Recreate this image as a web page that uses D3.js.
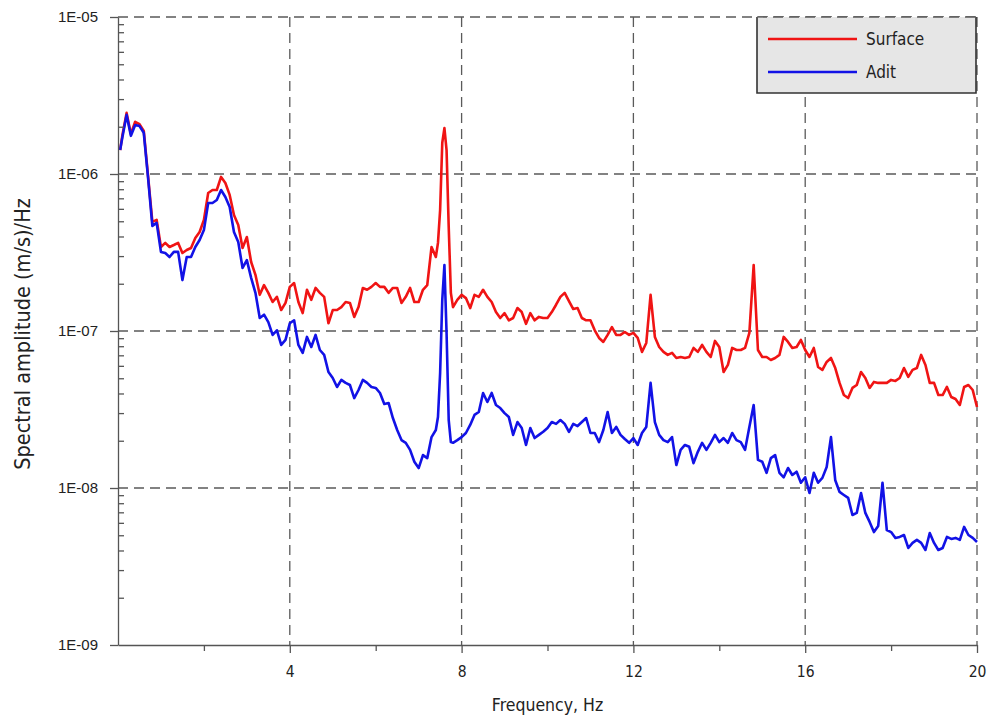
<!DOCTYPE html>
<html>
<head>
<meta charset="utf-8">
<script src="https://cdn.jsdelivr.net/npm/d3@7"></script>
<style>
html, body { margin: 0; padding: 0; background: #fff; }
svg { display: block; }
.cond { font-family: "DejaVu Sans Condensed", "DejaVu Sans", sans-serif; font-stretch: condensed; fill: #222; }
.ytick text { font-family: "Liberation Sans", Arial, sans-serif; font-size: 15px; fill: #222; }
.xtick text { font-family: "DejaVu Sans Condensed", "DejaVu Sans", sans-serif; font-stretch: condensed; font-size: 15.5px; fill: #222; }
</style>
</head>
<body>
<svg id="chart" width="989" height="717"></svg>
<script>
// frequency (Hz) of each spectral sample
const freq = [
    0.05, 0.1, 0.2, 0.3, 0.4, 0.5, 0.6, 0.7, 0.8, 0.9,
    1.0, 1.1, 1.2, 1.3, 1.4, 1.5, 1.6, 1.7, 1.8, 1.9,
    2.0, 2.1, 2.2, 2.3, 2.4, 2.5, 2.6, 2.7, 2.8, 2.9,
    3.0, 3.1, 3.2, 3.3, 3.4, 3.5, 3.6, 3.7, 3.8, 3.9,
    4.0, 4.1, 4.2, 4.3, 4.4, 4.5, 4.6, 4.7, 4.8, 4.9,
    5.0, 5.1, 5.2, 5.3, 5.4, 5.5, 5.6, 5.7, 5.8, 5.9,
    6.0, 6.1, 6.2, 6.3, 6.4, 6.5, 6.6, 6.7, 6.8, 6.9,
    7.0, 7.1, 7.2, 7.3, 7.4, 7.45, 7.5, 7.55, 7.6, 7.65, 7.7, 7.75, 7.8, 7.9,
    8.0, 8.1, 8.2, 8.3, 8.4, 8.5, 8.6, 8.7, 8.8, 8.9,
    9.0, 9.1, 9.2, 9.3, 9.4, 9.5, 9.6, 9.7, 9.8, 9.9,
    10.0, 10.1, 10.2, 10.3, 10.4, 10.5, 10.6, 10.7, 10.8, 10.9,
    11.0, 11.1, 11.2, 11.3, 11.4, 11.5, 11.6, 11.7, 11.8, 11.9,
    12.0, 12.1, 12.2, 12.3, 12.4, 12.5, 12.6, 12.7, 12.8, 12.9,
    13.0, 13.1, 13.2, 13.3, 13.4, 13.5, 13.6, 13.7, 13.8, 13.9,
    14.0, 14.1, 14.2, 14.3, 14.4, 14.5, 14.6, 14.7, 14.8, 14.9,
    15.0, 15.1, 15.2, 15.3, 15.4, 15.5, 15.6, 15.7, 15.8, 15.9,
    16.0, 16.1, 16.2, 16.3, 16.4, 16.5, 16.6, 16.7, 16.8, 16.9,
    17.0, 17.1, 17.2, 17.3, 17.4, 17.5, 17.6, 17.7, 17.8, 17.9,
    18.0, 18.1, 18.2, 18.3, 18.4, 18.5, 18.6, 18.7, 18.8, 18.9,
    19.0, 19.1, 19.2, 19.3, 19.4, 19.5, 19.6, 19.7, 19.8, 19.9,
    20.0
];

// spectral amplitude, (m/s)/Hz
const surface = [
    1.42e-6, 1.75e-6, 2.45e-6, 1.80e-6, 2.15e-6, 2.08e-6, 1.88e-6, 9.7e-7, 4.95e-7, 5.1e-7,
    3.43e-7, 3.64e-7, 3.43e-7, 3.53e-7, 3.64e-7, 3.14e-7, 3.28e-7, 3.38e-7, 3.91e-7, 4.27e-7,
    5.1e-7, 7.57e-7, 7.91e-7, 7.91e-7, 9.58e-7, 8.77e-7, 7.36e-7, 5.48e-7, 4.74e-7, 3.38e-7,
    3.97e-7, 2.75e-7, 2.28e-7, 1.70e-7, 1.96e-7, 1.75e-7, 1.53e-7, 1.65e-7, 1.36e-7, 1.51e-7,
    1.91e-7, 2.02e-7, 1.53e-7, 1.30e-7, 1.83e-7, 1.58e-7, 1.88e-7, 1.75e-7, 1.65e-7, 1.12e-7,
    1.36e-7, 1.36e-7, 1.42e-7, 1.53e-7, 1.51e-7, 1.23e-7, 1.42e-7, 1.88e-7, 1.83e-7, 1.91e-7,
    2.02e-7, 1.91e-7, 1.91e-7, 1.75e-7, 1.88e-7, 1.88e-7, 1.51e-7, 1.65e-7, 1.88e-7, 1.53e-7,
    1.53e-7, 1.83e-7, 1.96e-7, 3.43e-7, 2.96e-7, 3.64e-7, 5.9e-7, 1.58e-6, 1.96e-6, 1.42e-6, 4.6e-7, 1.75e-7, 1.42e-7, 1.58e-7,
    1.70e-7, 1.62e-7, 1.40e-7, 1.70e-7, 1.65e-7, 1.83e-7, 1.65e-7, 1.53e-7, 1.32e-7, 1.21e-7,
    1.30e-7, 1.17e-7, 1.21e-7, 1.40e-7, 1.32e-7, 1.11e-7, 1.30e-7, 1.17e-7, 1.23e-7, 1.21e-7,
    1.21e-7, 1.32e-7, 1.47e-7, 1.65e-7, 1.75e-7, 1.55e-7, 1.38e-7, 1.40e-7, 1.21e-7, 1.17e-7,
    1.17e-7, 1.01e-7, 9.03e-8, 8.52e-8, 9.44e-8, 1.06e-7, 9.44e-8, 9.44e-8, 9.86e-8, 9.44e-8,
    9.72e-8, 9.03e-8, 7.36e-8, 8.39e-8, 1.70e-7, 9.17e-8, 7.91e-8, 7.36e-8, 7.04e-8, 7.25e-8,
    6.73e-8, 6.83e-8, 6.73e-8, 6.83e-8, 7.80e-8, 7.36e-8, 8.15e-8, 7.36e-8, 6.83e-8, 8.65e-8,
    7.91e-8, 5.48e-8, 6.08e-8, 7.80e-8, 7.57e-8, 7.57e-8, 7.80e-8, 9.72e-8, 2.63e-7, 7.57e-8,
    6.83e-8, 6.83e-8, 6.54e-8, 6.73e-8, 7.04e-8, 9.17e-8, 8.52e-8, 7.80e-8, 7.91e-8, 8.77e-8,
    7.57e-8, 6.83e-8, 7.80e-8, 5.90e-8, 5.65e-8, 6.35e-8, 6.73e-8, 5.81e-8, 4.67e-8, 3.91e-8,
    3.74e-8, 4.34e-8, 4.53e-8, 5.48e-8, 5.02e-8, 4.34e-8, 4.74e-8, 4.67e-8, 4.67e-8, 4.67e-8,
    4.88e-8, 4.81e-8, 5.02e-8, 5.81e-8, 5.10e-8, 5.65e-8, 5.81e-8, 7.04e-8, 6.08e-8, 4.67e-8,
    4.67e-8, 3.91e-8, 3.91e-8, 4.40e-8, 3.80e-8, 3.69e-8, 3.38e-8, 4.40e-8, 4.53e-8, 4.21e-8,
    3.28e-8
];

const adit = [
    1.42e-6, 1.70e-6, 2.38e-6, 1.75e-6, 2.05e-6, 2.02e-6, 1.83e-6, 9.44e-7, 4.67e-7, 4.88e-7,
    3.19e-7, 3.14e-7, 2.96e-7, 3.19e-7, 3.19e-7, 2.11e-7, 2.96e-7, 2.96e-7, 3.43e-7, 3.80e-7,
    4.40e-7, 6.54e-7, 6.54e-7, 6.83e-7, 7.91e-7, 7.14e-7, 6.17e-7, 4.27e-7, 3.69e-7, 2.52e-7,
    2.83e-7, 2.18e-7, 1.75e-7, 1.21e-7, 1.27e-7, 1.14e-7, 9.44e-8, 1.01e-7, 8.15e-8, 8.77e-8,
    1.12e-7, 1.17e-7, 8.15e-8, 7.25e-8, 9.17e-8, 7.91e-8, 9.44e-8, 7.57e-8, 7.04e-8, 5.48e-8,
    5.02e-8, 4.40e-8, 4.88e-8, 4.67e-8, 4.53e-8, 3.74e-8, 4.21e-8, 4.88e-8, 4.67e-8, 4.40e-8,
    4.34e-8, 4.03e-8, 3.43e-8, 3.48e-8, 2.79e-8, 2.34e-8, 2.02e-8, 1.94e-8, 1.75e-8, 1.47e-8,
    1.34e-8, 1.62e-8, 1.55e-8, 2.11e-8, 2.34e-8, 2.83e-8, 5.40e-8, 1.58e-7, 2.63e-7, 9.72e-8, 2.71e-8, 1.96e-8, 1.94e-8, 2.02e-8,
    2.11e-8, 2.24e-8, 2.52e-8, 2.92e-8, 3.05e-8, 4.03e-8, 3.53e-8, 4.03e-8, 3.38e-8, 3.23e-8,
    3.00e-8, 2.83e-8, 2.18e-8, 2.63e-8, 2.41e-8, 1.88e-8, 2.41e-8, 2.08e-8, 2.18e-8, 2.28e-8,
    2.41e-8, 2.63e-8, 2.56e-8, 2.71e-8, 2.56e-8, 2.28e-8, 2.56e-8, 2.48e-8, 2.63e-8, 2.79e-8,
    2.24e-8, 2.24e-8, 1.96e-8, 2.34e-8, 3.05e-8, 2.24e-8, 2.45e-8, 2.18e-8, 2.05e-8, 1.94e-8,
    2.08e-8, 1.88e-8, 2.24e-8, 2.45e-8, 4.67e-8, 2.63e-8, 2.18e-8, 2.02e-8, 1.96e-8, 2.11e-8,
    1.40e-8, 1.75e-8, 1.88e-8, 1.83e-8, 1.44e-8, 1.70e-8, 1.94e-8, 1.75e-8, 1.94e-8, 2.18e-8,
    1.96e-8, 2.08e-8, 1.94e-8, 2.24e-8, 2.02e-8, 1.96e-8, 1.75e-8, 2.45e-8, 3.38e-8, 1.51e-8,
    1.47e-8, 1.25e-8, 1.55e-8, 1.62e-8, 1.25e-8, 1.17e-8, 1.34e-8, 1.21e-8, 1.27e-8, 1.08e-8,
    1.17e-8, 9.30e-9, 1.25e-8, 1.08e-8, 1.16e-8, 1.36e-8, 2.11e-8, 1.12e-8, 9.44e-9, 9.03e-9,
    8.65e-9, 6.73e-9, 6.94e-9, 9.30e-9, 6.94e-9, 6.08e-9, 5.24e-9, 5.73e-9, 1.08e-8, 5.40e-9,
    5.24e-9, 4.81e-9, 4.88e-9, 5.02e-9, 4.15e-9, 4.47e-9, 4.67e-9, 4.47e-9, 4.03e-9, 5.17e-9,
    4.47e-9, 4.03e-9, 4.15e-9, 4.88e-9, 4.74e-9, 4.81e-9, 4.67e-9, 5.65e-9, 5.02e-9, 4.81e-9,
    4.53e-9
];

const xMajorTicks = [4, 8, 12, 16, 20];
const xMinorTicks = [2, 6, 10, 14, 18];
const yDecades = [1e-9, 1e-8, 1e-7, 1e-6, 1e-5];

const seriesList = [
    { name: "Surface", values: surface, color: "#f01414" },
    { name: "Adit", values: adit, color: "#1212e6" }
];

const svg = d3.select("#chart");
const plotL = 118, plotR = 977, plotT = 17, plotB = 645;

const x = d3.scaleLinear().domain([0, 20]).range([plotL, plotR]);
const y = d3.scaleLog().domain([1e-9, 1e-5]).range([plotB, plotT]);

// minor y ticks 2..9 inside each decade
const yMinor = [];
yDecades.slice(0, -1).forEach(d => {
    for (let k = 2; k <= 9; k++) yMinor.push(d * k);
});

const fmtExp = d => "1E-" + String(-Math.round(Math.log10(d))).padStart(2, "0");

// grid
const grid = svg.append("g").attr("stroke", "#5a5a5a").attr("stroke-width", 1.3)
    .attr("stroke-dasharray", "10,6").attr("fill", "none");
grid.selectAll(".gx").data(xMajorTicks).enter().append("line")
    .attr("x1", d => x(d)).attr("x2", d => x(d))
    .attr("y1", plotT).attr("y2", plotB);
grid.selectAll(".gy").data(yDecades.slice(1)).enter().append("line")
    .attr("x1", plotL).attr("x2", plotR)
    .attr("y1", d => y(d)).attr("y2", d => y(d));

// series
const line = d3.line()
    .x((d, i) => x(freq[i]))
    .y(d => y(d));

seriesList.forEach(s => {
    svg.append("path")
        .datum(s.values)
        .attr("fill", "none")
        .attr("stroke", s.color)
        .attr("stroke-width", 2.6)
        .attr("stroke-linejoin", "round")
        .attr("d", line);
});

// axes
const axisColor = "#555";
svg.append("g").attr("class", "ytick")
    .attr("transform", `translate(${plotL},0)`)
    .call(d3.axisLeft(y).tickValues(yDecades).tickFormat(fmtExp).tickSize(8).tickSizeOuter(0).tickPadding(12));
svg.append("g")
    .attr("transform", `translate(${plotL},0)`)
    .call(d3.axisRight(y).tickValues(yMinor).tickFormat("").tickSize(6).tickSizeOuter(0))
    .call(g => g.select(".domain").remove());

svg.append("g").attr("class", "xtick")
    .attr("transform", `translate(0,${plotB})`)
    .call(d3.axisBottom(x).tickValues(xMajorTicks).tickSize(8).tickSizeOuter(0).tickPadding(13));
svg.append("g")
    .attr("transform", `translate(0,${plotB})`)
    .call(d3.axisBottom(x).tickValues(xMinorTicks).tickFormat("").tickSize(6).tickSizeOuter(0))
    .call(g => g.select(".domain").remove());

svg.selectAll(".domain, .tick line").attr("stroke", axisColor).attr("stroke-width", 1.3);
svg.selectAll(".tick text").attr("fill", "#222");

// axis titles
svg.append("text").attr("class", "cond")
    .attr("x", (plotL + plotR) / 2).attr("y", 711)
    .attr("text-anchor", "middle")
    .attr("font-size", 17.5)
    .text("Frequency, Hz");

svg.append("text").attr("class", "cond")
    .attr("transform", `translate(30,${(plotT + plotB) / 2 + 3}) rotate(-90)`)
    .attr("text-anchor", "middle")
    .attr("font-size", 21.5)
    .text("Spectral amplitude (m/s)/Hz");

// legend
const lg = svg.append("g");
lg.append("rect").attr("x", 757).attr("y", plotT).attr("width", 219).attr("height", 76)
    .attr("fill", "#e6e6e6");
lg.append("path").attr("d", `M757,${plotT}V93H976V${plotT}`)
    .attr("fill", "none").attr("stroke", "#333").attr("stroke-width", 1.6);
lg.append("line").attr("x1", 757).attr("x2", 976).attr("y1", plotT).attr("y2", plotT)
    .attr("stroke", "#5a5a5a").attr("stroke-width", 1.3).attr("stroke-dasharray", "10,6");

seriesList.forEach((s, i) => {
    const ly = 39 + i * 33;
    lg.append("line").attr("x1", 768).attr("x2", 857).attr("y1", ly).attr("y2", ly)
        .attr("stroke", s.color).attr("stroke-width", 2.4);
    lg.append("text").attr("class", "cond")
        .attr("x", 866).attr("y", ly + 6)
        .attr("font-size", 17)
        .text(s.name);
});
</script>
</body>
</html>
